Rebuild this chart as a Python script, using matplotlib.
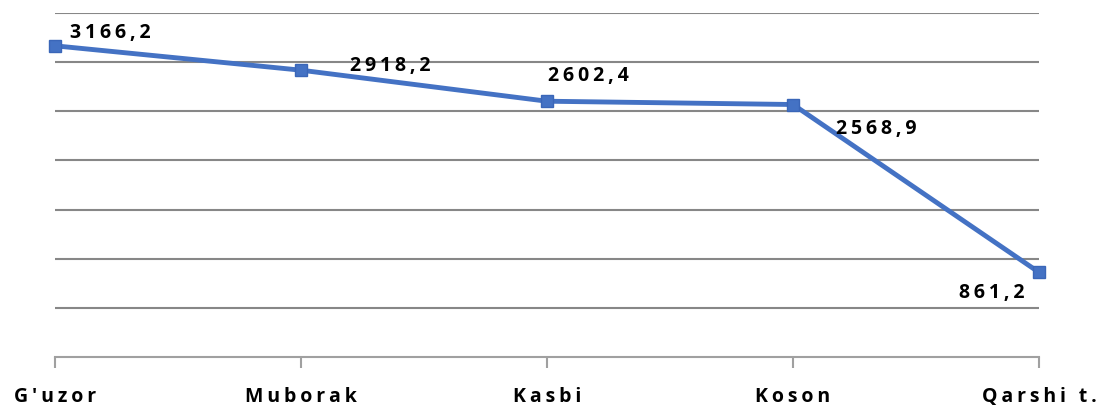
import numpy as np
import matplotlib
matplotlib.use("Agg")
import matplotlib.pyplot as plt

districts = ["G'uzor", "Muborak", "Kasbi", "Koson", "Qarshi t."]
values = [3166.2, 2918.2, 2602.4, 2568.9, 861.2]
value_labels = ["3166,2", "2918,2", "2602,4", "2568,9", "861,2"]

plt.rcParams['font.family'] = ['Open Sans', 'DejaVu Sans']

def spaced(s):
    # wide letter spacing like the original
    return "\u2009".join(s)

fig = plt.figure(figsize=(11.17, 4.10), dpi=100)
ax = fig.add_axes([55/1117, 1-358/410, (1039-55)/1117, (358-14)/410])

x = np.arange(len(districts))
ax.plot(x, values, color="#4472C4", lw=3.5, marker="s", ms=9,
        markerfacecolor="#4472C4", markeredgecolor="#3A66B8", zorder=3, clip_on=False)

# label offsets in points (dx, dy)
offsets = [(40, 10), (64, 4), (30, 19), (60, -17), (-34, -14)]
for xi, v, lab, (dx, dy) in zip(x, values, value_labels, offsets):
    ax.annotate(spaced(lab), (xi, v), xytext=(dx, dy), textcoords="offset points",
                ha="center", va="center", fontsize=14, fontweight="bold", color="black")

ax.set_xlim(0, 4)
ax.set_ylim(0, 3500)
ax.set_yticks(np.arange(500, 3501, 500))
ax.yaxis.grid(True, color="#878787", lw=1.5)
ax.set_axisbelow(True)
ax.tick_params(axis="y", left=False, labelleft=False)

ax.set_xticks(x)
ax.set_xticklabels([spaced(d) for d in districts], fontsize=14, fontweight="bold")
ax.tick_params(axis="x", direction="out", length=8, width=1.5, color="#a0a0a0", pad=13)

for s in ["top", "left", "right"]:
    ax.spines[s].set_visible(False)
ax.spines["bottom"].set_color("#a0a0a0")
ax.spines["bottom"].set_linewidth(1.5)

fig.savefig("out.png", dpi=100)
